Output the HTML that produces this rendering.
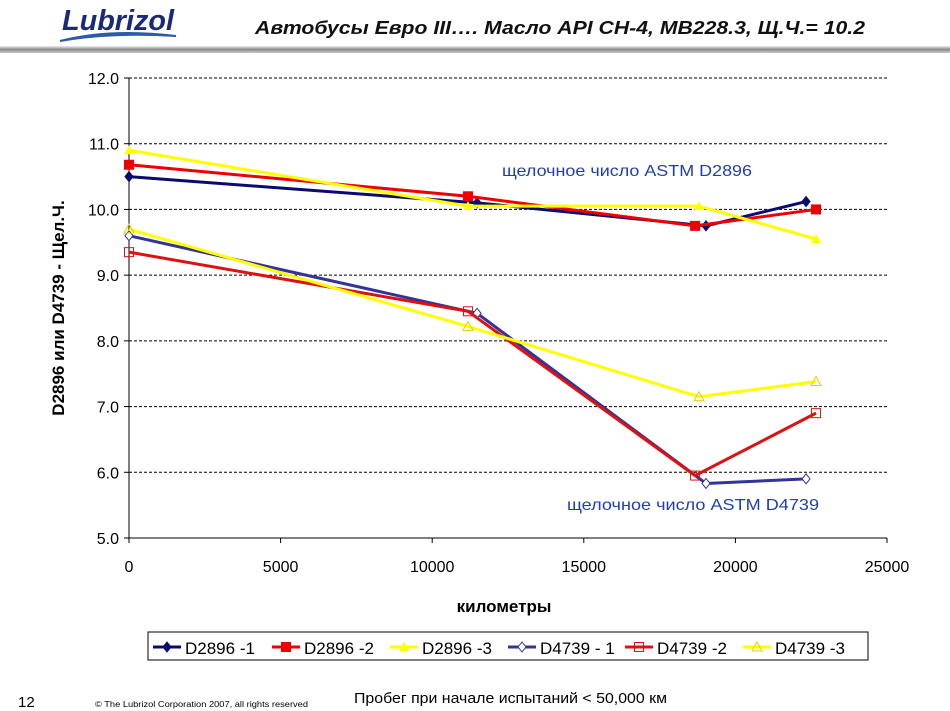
<!DOCTYPE html>
<html><head><meta charset="utf-8"><style>
html,body{margin:0;padding:0;background:#fff;}
svg{display:block;font-family:"Liberation Sans","DejaVu Sans",sans-serif;}
</style></head><body>
<svg id="c" width="950" height="711" viewBox="0 0 950 711">
<defs><linearGradient id="bar" x1="0" y1="0" x2="0" y2="1"><stop offset="0" stop-color="#eee"/><stop offset="0.5" stop-color="#888"/><stop offset="1" stop-color="#ccc"/></linearGradient></defs>
<g>
<text x="62" y="30" font-size="29" font-weight="bold" font-style="italic" fill="#1a2a78" textLength="112" lengthAdjust="spacingAndGlyphs">Lubrizol</text>
<path d="M60 41 Q110 28 176 36 Q110 32 60 41Z" fill="#2a5aa8" stroke="#2a5aa8" stroke-width="2"/>
<text x="255" y="34" font-size="18" font-weight="bold" font-style="italic" fill="#111" textLength="610" lengthAdjust="spacingAndGlyphs">Автобусы Евро III…. Масло API CH-4, MB228.3, Щ.Ч.= 10.2</text>
<rect x="0" y="46" width="950" height="7" fill="url(#bar)"/>
</g>
<g id="plot"></g>
<text x="504" y="612" font-size="17" font-weight="bold" text-anchor="middle" fill="#000">километры</text>
<text transform="translate(64,308) rotate(-90)" font-size="17" font-weight="bold" text-anchor="middle" fill="#000">D2896 или D4739 - Щел.Ч.</text>
<text x="502" y="176" font-size="16" fill="#1f3fb0" textLength="250" lengthAdjust="spacingAndGlyphs">щелочное число ASTM D2896</text>
<text x="567" y="510" font-size="16" fill="#1f3fb0" textLength="252" lengthAdjust="spacingAndGlyphs">щелочное число ASTM D4739</text>
<g id="legend"></g>
<text x="18" y="707" font-size="15" fill="#000">12</text>
<text x="95" y="707" font-size="8" fill="#000" textLength="213" lengthAdjust="spacingAndGlyphs">© The Lubrizol Corporation 2007, all rights reserved</text>
<text x="354" y="703" font-size="15" fill="#000" textLength="313" lengthAdjust="spacingAndGlyphs">Пробег при начале испытаний &lt; 50,000 км</text>
</svg>
<script>
const seriesNames=["D2896 -1","D2896 -2","D2896 -3","D4739 - 1","D4739 -2","D4739 -3"];
const xs1=[0,11480,19030,22330];
const xs2=[0,11180,18670,22660];
const xs3=[0,11180,18800,22660];
const d2896_1=[10.5,10.1,9.75,10.12];
const d2896_2=[10.68,10.2,9.75,10.0];
const d2896_3=[10.9,10.05,10.05,9.55];
const d4739_1=[9.6,8.42,5.83,5.9];
const d4739_2=[9.35,8.45,5.95,6.9];
const d4739_3=[9.7,8.22,7.15,7.38];
const xTicks=[0,5000,10000,15000,20000,25000];
const yTicks=[5,6,7,8,9,10,11,12];
const NS="http://www.w3.org/2000/svg";
const L=129,R=887,T=78,B=538;
const sx=v=>L+(v-0)/25000*(R-L);
const sy=v=>B-(v-5)/7*(B-T);
const plot=document.getElementById('plot');
function mk(tag,attrs,parent){const e=document.createElementNS(NS,tag);for(const k in attrs)e.setAttribute(k,attrs[k]);(parent||plot).appendChild(e);return e;}
yTicks.forEach(t=>{
  if(t>5){const g=mk('line',{x1:L,x2:R,y1:sy(t),y2:sy(t),stroke:'#000','stroke-width':1,'stroke-dasharray':'3,2'});
  
  }
  const tk=mk('line',{x1:L-5,x2:L,y1:sy(t),y2:sy(t),stroke:'#000'});
  
  
  const tx=mk('text',{x:L-10,y:sy(t)+6,'font-size':16,'text-anchor':'end',fill:'#000'});
  tx.textContent=t.toFixed(1);
  
  
});
xTicks.forEach(t=>{
  const tk=mk('line',{x1:sx(t),x2:sx(t),y1:B,y2:B+5,stroke:'#000'});
  
  
  const tx=mk('text',{x:sx(t),y:B+34,'font-size':16,'text-anchor':'middle',fill:'#000'});
  tx.textContent=t;
  
  
});
const ax=mk('path',{d:`M${L} ${T} V${B} H${R}`,fill:'none',stroke:'#000'});


function marker(type,x,y,col,parent){
  let e;
  if(type==='dia')e=mk('path',{d:`M${x} ${y-5}L${x+4} ${y}L${x} ${y+5}L${x-4} ${y}Z`,fill:col,stroke:col},parent);
  else if(type==='hdia')e=mk('path',{d:`M${x} ${y-5}L${x+4} ${y}L${x} ${y+5}L${x-4} ${y}Z`,fill:'#fff',stroke:col},parent);
  else if(type==='sq')e=mk('rect',{x:x-5,y:y-5,width:10,height:10,fill:col},parent);
  else if(type==='hsq')e=mk('rect',{x:x-4.5,y:y-4.5,width:9,height:9,fill:'none',stroke:col},parent);
  else if(type==='tri')e=mk('path',{d:`M${x} ${y-5}L${x+5} ${y+4}L${x-5} ${y+4}Z`,fill:col},parent);
  else e=mk('path',{d:`M${x} ${y-5}L${x+5} ${y+4}L${x-5} ${y+4}Z`,fill:'none',stroke:'#e0d000'},parent);
  
  
}
const series=[
 {xs:xs1,ys:d2896_1,col:'#0a0a70',m:'dia'},
 {xs:xs2,ys:d2896_2,col:'#ee0000',m:'sq'},
 {xs:xs3,ys:d2896_3,col:'#ffff00',m:'tri'},
 {xs:xs1,ys:d4739_1,col:'#333399',m:'hdia'},
 {xs:xs2,ys:d4739_2,col:'#dd1111',m:'hsq'},
 {xs:xs3,ys:d4739_3,col:'#ffff00',m:'htri'}];
const order=[3,4,5,0,1,2];
order.forEach(i=>{
  const s=series[i];
  const g=mk('g',{});
  
  
  const pts=s.xs.map((x,j)=>sx(x)+','+sy(s.ys[j])).join(' ');
  mk('polyline',{points:pts,fill:'none',stroke:s.col,'stroke-width':3},g);
  s.xs.forEach((x,j)=>marker(s.m,sx(x),sy(s.ys[j]),s.col,g));
});
const lg=document.getElementById('legend');
mk('rect',{x:148,y:632,width:720,height:28,fill:'#fff',stroke:'#000'},lg);
const lx=[153,272,390,508,625,743];
seriesNames.forEach((n,i)=>{
  const s=series[i];const x=lx[i],y=647;
  const g=mk('g',{},lg);
  
  
  mk('line',{x1:x,x2:x+28,y1:y,y2:y,stroke:s.col,'stroke-width':3},g);
  marker(s.m,x+14,y,s.col,g);
  const t=mk('text',{x:x+32,y:y+7,'font-size':17,fill:'#000'},g);
  t.textContent=n;
});
</script>
</body></html>
